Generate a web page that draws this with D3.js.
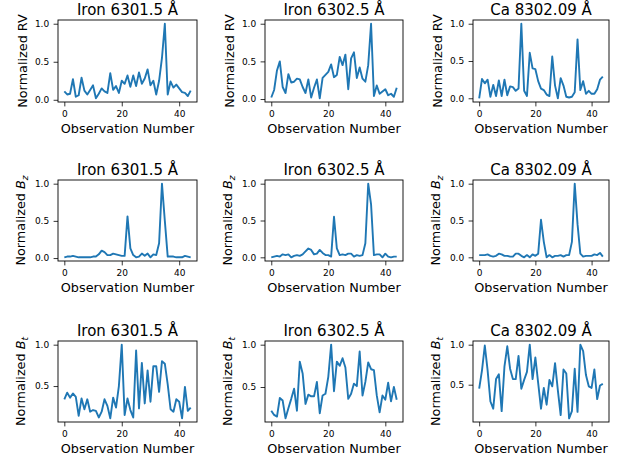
<!DOCTYPE html>
<html>
<head>
<meta charset="utf-8">
<script src="https://cdn.jsdelivr.net/npm/d3@7"></script>
<style>
  body { margin: 0; background: #fff; }
  svg { font-family: "DejaVu Sans", sans-serif; }
  .axis line { stroke: #000; stroke-width: 0.8; }
  .axis text { fill: #000; font-size: 9px; font-family: "DejaVu Sans", sans-serif; }
</style>
</head>
<body>
<div id="chart"></div>
<script>
// spectral lines (columns) and quantities (rows)
const lines = ["Iron 6301.5 Å", "Iron 6302.5 Å", "Ca 8302.09 Å"];
const quantities = ["RV", "B_z", "B_t"];
const xTicks = [0, 20, 40];

// Normalized RV
const rv_6301 = [0.11,0.07,0.08,0.27,0.04,0.06,0.29,0.12,0.07,0.13,0.19,0.02,0.08,0.15,0.11,0.09,0.35,0.13,0.18,0.09,0.25,0.21,0.32,0.17,0.32,0.18,0.36,0.21,0.28,0.40,0.19,0.25,0.07,0.25,0.55,1.00,0.07,0.24,0.16,0.20,0.15,0.10,0.09,0.05,0.12];
const rv_6302 = [0.02,0.12,0.38,0.50,0.16,0.08,0.33,0.22,0.23,0.27,0.26,0.16,0.08,0.26,0.02,0.15,0.26,0.01,0.28,0.32,0.36,0.46,0.29,0.32,0.56,0.45,0.59,0.13,0.54,0.62,0.28,0.42,0.27,0.23,0.45,1.00,0.04,0.18,0.07,0.10,0.13,0.05,0.07,0.03,0.15];
const rv_8302 = [0.00,0.26,0.20,0.25,0.02,0.18,0.03,0.24,0.03,0.25,0.04,0.16,0.15,0.10,0.13,1.00,0.10,0.03,0.61,0.40,0.39,0.23,0.13,0.11,0.05,0.03,0.56,0.17,0.00,0.27,0.17,0.02,0.01,0.02,0.08,0.79,0.11,0.23,0.06,0.10,0.06,0.06,0.12,0.25,0.29];

// Normalized Bz
const bz_6301 = [0.01,0.02,0.02,0.03,0.02,0.01,0.01,0.01,0.01,0.01,0.02,0.02,0.05,0.10,0.08,0.04,0.04,0.06,0.05,0.04,0.03,0.03,0.56,0.13,0.04,0.01,0.02,0.06,0.03,0.06,0.01,0.05,0.04,0.20,1.00,0.50,0.02,0.02,0.02,0.01,0.01,0.01,0.03,0.02,0.01];
const bz_6302 = [0.00,0.01,0.02,0.01,0.04,0.03,0.04,0.00,0.02,0.03,0.02,0.04,0.08,0.12,0.10,0.04,0.05,0.10,0.06,0.03,0.03,0.01,0.55,0.12,0.03,0.04,0.03,0.05,0.05,0.01,0.03,0.02,0.03,0.19,1.00,0.72,0.03,0.04,0.04,0.00,0.05,0.01,0.00,0.01,0.01];
const bz_8302 = [0.03,0.03,0.03,0.04,0.02,0.01,0.02,0.05,0.04,0.02,0.02,0.01,0.01,0.05,0.05,0.02,0.00,0.03,0.00,0.04,0.02,0.05,0.51,0.21,0.00,0.03,0.00,0.02,0.02,0.03,0.01,0.03,0.03,0.21,1.00,0.45,0.05,0.01,0.02,0.02,0.02,0.04,0.03,0.06,0.01];

// Normalized Bt
const bt_6301 = [0.34,0.42,0.36,0.41,0.37,0.14,0.35,0.22,0.34,0.19,0.21,0.20,0.12,0.19,0.34,0.26,0.11,0.36,0.24,0.50,1.00,0.15,0.35,0.21,0.12,0.93,0.23,0.78,0.29,0.69,0.31,0.74,0.74,0.43,0.80,0.77,0.52,0.22,0.19,0.34,0.31,0.11,0.49,0.20,0.24];
const bt_6302 = [0.22,0.17,0.15,0.37,0.34,0.13,0.25,0.36,0.48,0.22,0.80,0.66,0.30,0.41,0.39,0.39,0.56,0.19,0.40,0.42,0.62,1.00,0.45,0.80,0.75,0.84,0.73,0.36,0.42,0.54,0.51,0.92,0.40,0.56,0.79,0.71,0.70,0.40,0.20,0.40,0.35,0.55,0.33,0.50,0.35];
const bt_8302 = [0.45,0.68,0.99,0.68,0.29,0.20,0.57,0.63,0.17,0.73,0.98,0.70,0.57,0.57,0.86,0.45,0.56,0.66,1.00,0.57,0.84,0.52,0.20,0.46,0.25,0.56,0.48,0.77,0.43,0.12,0.69,0.64,0.08,0.17,0.70,0.16,1.00,0.92,0.62,0.48,0.46,0.69,0.32,0.49,0.51];

const series = [
  [rv_6301, rv_6302, rv_8302],
  [bz_6301, bz_6302, bz_8302],
  [bt_6301, bt_6302, bt_8302]
];

const W = 629, H = 461;
const cols = [{ l: 58, r: 197 }, { l: 265, r: 403 }, { l: 473, r: 609 }];
const rows = [{ t: 20, b: 102 }, { t: 180, b: 261 }, { t: 341, b: 422 }];

var svg = d3.select('#chart').append('svg')
    .attr('width', W)
    .attr('height', H);

function plot(data, title, quantity, col, row) {
    var g = svg.append('g');

    // matplotlib style 5% margins
    var xExt = [0, data.length - 1];
    var xPad = (xExt[1] - xExt[0]) * 0.05;
    var x = d3.scaleLinear()
        .domain([xExt[0] - xPad, xExt[1] + xPad])
        .range([col.l, col.r]);

    var yExt = d3.extent(data);
    var yPad = (yExt[1] - yExt[0]) * 0.05;
    var y = d3.scaleLinear()
        .domain([yExt[0] - yPad, yExt[1] + yPad])
        .range([row.b, row.t]);

    var yTicks = [0, 0.5, 1.0].filter(v => v >= y.domain()[0] && v <= y.domain()[1]);

    var xAxis = g.append('g')
        .attr('class', 'axis')
        .attr('transform', `translate(0,${row.b})`)
        .call(d3.axisBottom(x).tickValues(xTicks).tickSize(4.4).tickPadding(4));
    xAxis.select('.domain').remove();

    var yAxis = g.append('g')
        .attr('class', 'axis')
        .attr('transform', `translate(${col.l},0)`)
        .call(d3.axisLeft(y).tickValues(yTicks).tickFormat(d3.format('.1f')).tickSize(4.4).tickPadding(4.4));
    yAxis.select('.domain').remove();

    g.append('path')
        .datum(data)
        .attr('fill', 'none')
        .attr('stroke', '#1f77b4')
        .attr('stroke-width', 1.9)
        .attr('stroke-linejoin', 'round')
        .attr('d', d3.line().x((d, i) => x(i)).y(d => y(d)));

    // axes frame
    g.append('rect')
        .attr('x', col.l)
        .attr('y', row.t)
        .attr('width', col.r - col.l)
        .attr('height', row.b - row.t)
        .attr('fill', 'none')
        .attr('stroke', '#000')
        .attr('stroke-width', 0.9);

    g.append('text')
        .attr('x', (col.l + col.r) / 2)
        .attr('y', row.t - 5.5)
        .attr('text-anchor', 'middle')
        .attr('font-size', '15px')
        .text(title);

    g.append('text')
        .attr('x', (col.l + col.r) / 2)
        .attr('y', row.b + 31)
        .attr('text-anchor', 'middle')
        .attr('font-size', '12.8px')
        .text('Observation Number');

    var lx = col.l - (quantity === 'RV' ? 31.5 : 33);
    var ly = (row.t + row.b) / 2;
    var label = g.append('text')
        .attr('transform', `translate(${lx},${ly}) rotate(-90)`)
        .attr('text-anchor', 'middle')
        .attr('font-size', '12.8px');
    label.append('tspan').text('Normalized ');
    if (quantity === 'RV') {
        label.append('tspan').text('RV');
    } else {
        var parts = quantity.split('_');
        label.append('tspan').attr('font-style', 'italic').text(parts[0]);
        label.append('tspan').attr('font-style', 'italic').attr('font-size', '9px').attr('dy', 3).text(parts[1]);
    }
}

for (let r = 0; r < 3; r++) {
    for (let c = 0; c < 3; c++) {
        plot(series[r][c], lines[c], quantities[r], cols[c], rows[r]);
    }
}
</script>
</body>
</html>
